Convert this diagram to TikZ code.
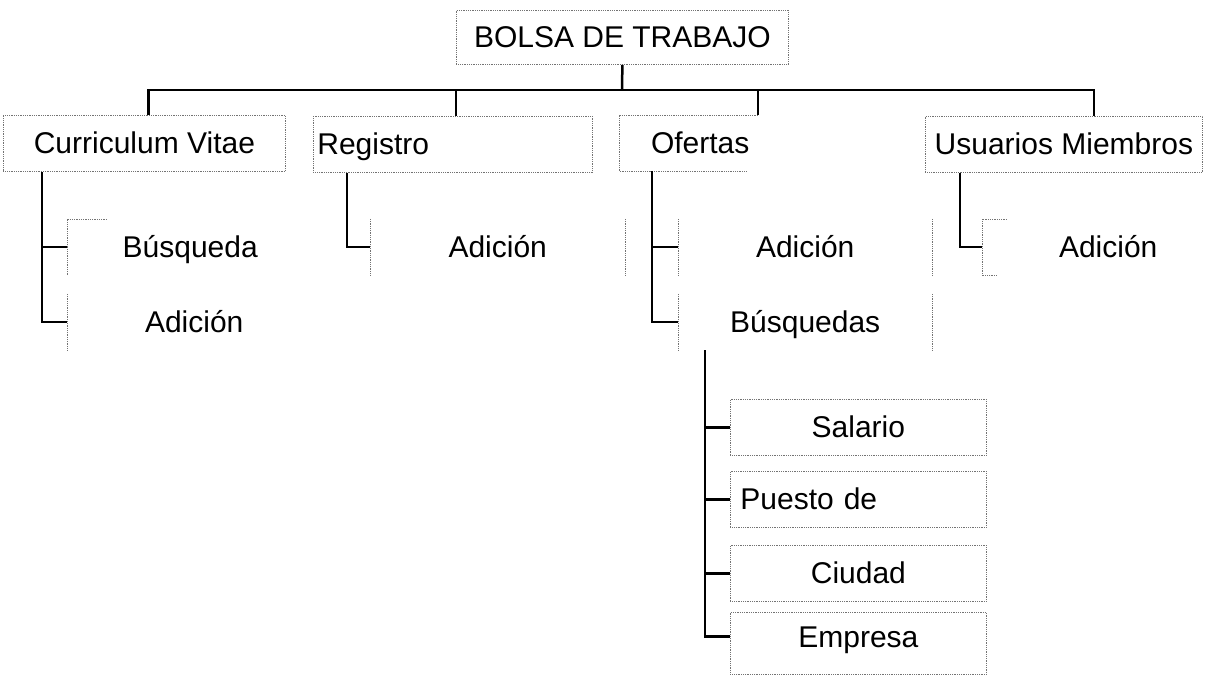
\documentclass[tikz,border=0pt]{standalone}
\usepackage{fontspec}
\setmainfont{Liberation Sans}
\usetikzlibrary{positioning}

\begin{document}
\begin{tikzpicture}[x=1pt,y=-1pt,font=\fontsize{30}{34}\selectfont,
    box/.style={draw=black!55,densely dotted,line width=0.8pt,minimum height=56pt,
      text height=24pt,text depth=4pt,anchor=north west},
    open/.style={minimum height=56pt,text height=24pt,text depth=4pt,anchor=north west},
    rim/.style={black!55,densely dotted,line width=0.8pt},
    link/.style={line width=2.5pt}]
      \useasboundingbox (0,0) rectangle (1227,676);
      % top
      \node[box,minimum width=332pt,minimum height=54pt](bolsa) at (456,10){BOLSA DE TRABAJO};
      % second row
      \node[box,minimum width=282pt](cv) at (3,115){Curriculum Vitae};
      \node[box,text width=271pt,align=left,inner xsep=4pt](reg) at (313,116){Registro};
      \node[open,minimum width=162pt](ofe) at (619,115){Ofertas};
      \node[box,minimum width=277pt](usr) at (925,116){Usuarios Miembros};
      % third row
      \node[open,minimum width=246pt](cvbus) at (67,219){Búsqueda};
      \node[open,minimum width=254pt](cvadd) at (67,294){Adición};
      \node[open,minimum width=255pt](regadd) at (370,219){Adición};
      \node[open,minimum width=254pt](ofeadd) at (678,219){Adición};
      \node[open,minimum width=254pt](ofebus) at (678,294){Búsquedas};
      \node[open,minimum width=252pt](usradd) at (982,219){Adición};
      % fourth row
      \node[box,minimum width=256pt](sal) at (730,399){Salario};
      \node[box,text width=236pt,align=left,inner xsep=10pt](pue) at (730,471){Puesto de};
      \node[box,minimum width=256pt](ciu) at (730,545){Ciudad};
      \node[box,minimum width=256pt,minimum height=62pt,text depth=16pt](emp) at (730,612){Empresa};

      % visible rims of the open boxes
      \draw[rim] ([xshift=139]ofe.north west) -- (ofe.north west) -- (ofe.south west) -- ([xshift=128]ofe.south west);
      \draw[rim] ([xshift=40]cvbus.north west) -- (cvbus.north west) -- (cvbus.south west);
      \draw[rim] (cvadd.north west) -- (cvadd.south west);
      \draw[rim] (regadd.north west) -- (regadd.south west) (regadd.north east) -- (regadd.south east);
      \draw[rim] (ofeadd.north west) -- (ofeadd.south west) (ofeadd.north east) -- (ofeadd.south east);
      \draw[rim] (ofebus.north west) -- (ofebus.south west) (ofebus.north east) -- (ofebus.south east);
      \draw[rim] ([xshift=25]usradd.north west) -- (usradd.north west) -- (usradd.south west) -- ([xshift=15]usradd.south west);

      % connectors
      \coordinate (bus) at (622,90);
      \draw[link] (bolsa.south) -- (bus);
      \draw[link] ([xshift=4]cv.north) |- (bus) -| ([xshift=30]usr.north);
      \draw[link] ([xshift=3]reg.north) -- ([xshift=3]reg.north |- bus);
      \draw[link] ([xshift=139]ofe.north west) -- ([xshift=139]ofe.north west |- bus);
      \draw[link] ([xshift=39]cv.south west) |- (cvadd.west) (cvbus.west) -- +(-25,0);
      \draw[link] ([xshift=34]reg.south west) |- (regadd.west);
      \draw[link] ([xshift=33]ofe.south west) |- (ofebus.west) (ofeadd.west) -- +(-26,0);
      \draw[link] ([xshift=35]usr.south west) |- (usradd.west);
      \draw[link] ([xshift=27]ofebus.south west) |- ([yshift=7]emp.west)
      (sal.west) -- +(-25,0) (pue.west) -- +(-25,0) (ciu.west) -- +(-25,0);
    \end{tikzpicture}
\end{document}
